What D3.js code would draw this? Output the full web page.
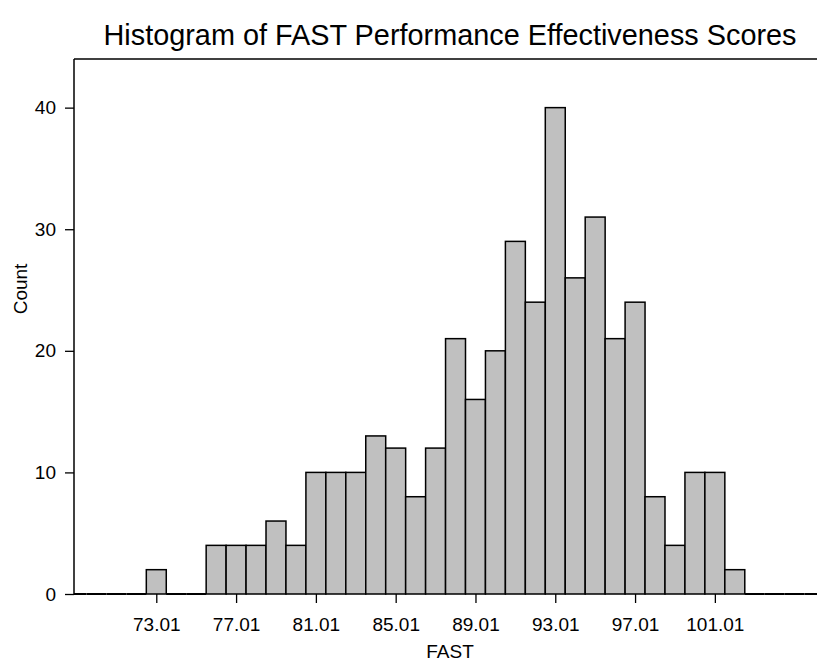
<!DOCTYPE html>
<html><head><meta charset="utf-8">
<script src="https://cdn.jsdelivr.net/npm/d3@7"></script>
<style>body{margin:0;background:#fff}svg{display:block}text{font-family:"Liberation Sans",Arial,sans-serif;fill:#000}</style>
</head><body><svg id="c" width="817" height="661"></svg>
<script>
const binCenters = [69.01,70.01,71.01,72.01,73.01,74.01,75.01,76.01,77.01,78.01,79.01,80.01,81.01,82.01,83.01,84.01,85.01,86.01,87.01,88.01,89.01,90.01,91.01,92.01,93.01,94.01,95.01,96.01,97.01,98.01,99.01,100.01,101.01,102.01,103.01,104.01,105.01,106.01];
const counts =     [0,0,0,0,2,0,0,4,4,4,6,4,10,10,10,13,12,8,12,21,16,20,29,24,40,26,31,21,24,8,4,10,10,2,0,0,0,0];
const xTicks = [73.01,77.01,81.01,85.01,89.01,93.01,97.01,101.01];
const yTicks = [0,10,20,30,40];
const binWidth = 1;

const svg = d3.select("#c");
const L = 74, R = 817, T = 59, B = 594;
const x = d3.scaleLinear().domain([68.885, 106.13]).range([L, R]);
const y = d3.scaleLinear().domain([0, 44]).range([B, T]);

svg.append("clipPath").attr("id","pc").append("rect").attr("x",L).attr("y",T-2).attr("width",R-L+2).attr("height",B-T+4);

const data = binCenters.map((c,i)=>({c, n:counts[i]}));
const g = svg.append("g").attr("clip-path","url(#pc)");
g.selectAll("rect").data(data.filter(d=>d.n>0)).join("rect")
  .attr("x", d=>x(d.c-binWidth/2))
  .attr("width", d=>x(d.c+binWidth/2)-x(d.c-binWidth/2))
  .attr("y", d=>y(d.n))
  .attr("height", d=>B-y(d.n))
  .attr("fill","#c0c0c0").attr("stroke","#000").attr("stroke-width",1.5);
// zero-height bins drawn as baseline segments
g.selectAll("line.zero").data(data.filter(d=>d.n===0)).join("line").attr("class","zero")
  .attr("x1", d=>x(d.c-binWidth/2)).attr("x2", d=>x(d.c+binWidth/2))
  .attr("y1", y(0)).attr("y2", y(0))
  .attr("stroke","#000").attr("stroke-width",2);

// frame: top and left
svg.append("line").attr("x1",L).attr("x2",R).attr("y1",T).attr("y2",T).attr("stroke","#000").attr("stroke-width",1.5);
svg.append("line").attr("x1",L).attr("x2",L).attr("y1",T).attr("y2",B).attr("stroke","#000").attr("stroke-width",1.5);

const xa = svg.append("g").attr("transform",`translate(0,${B})`)
  .call(d3.axisBottom(x).tickValues(xTicks).tickFormat(d3.format(".2f")).tickSize(9).tickSizeOuter(0).tickPadding(15));
xa.select(".domain").remove();
xa.selectAll("line").attr("stroke","#000").attr("stroke-width",1.3);
xa.selectAll("text").attr("font-size",19).attr("font-family","Liberation Sans, Arial, sans-serif");

const ya = svg.append("g").attr("transform",`translate(${L},0)`)
  .call(d3.axisLeft(y).tickValues(yTicks).tickSize(9).tickSizeOuter(0).tickPadding(9));
ya.select(".domain").remove();
ya.selectAll("line").attr("stroke","#000").attr("stroke-width",1.3);
ya.selectAll("text").attr("font-size",19).attr("font-family","Liberation Sans, Arial, sans-serif");

svg.append("text").attr("x",450).attr("y",45).attr("text-anchor","middle").attr("font-size",29)
  .attr("textLength",693).attr("lengthAdjust","spacingAndGlyphs")
  .text("Histogram of FAST Performance Effectiveness Scores");
svg.append("text").attr("x",450).attr("y",658).attr("text-anchor","middle").attr("font-size",19).text("FAST");
svg.append("text").attr("transform","translate(27,289) rotate(-90)").attr("text-anchor","middle").attr("font-size",19).text("Count");
</script></body></html>
